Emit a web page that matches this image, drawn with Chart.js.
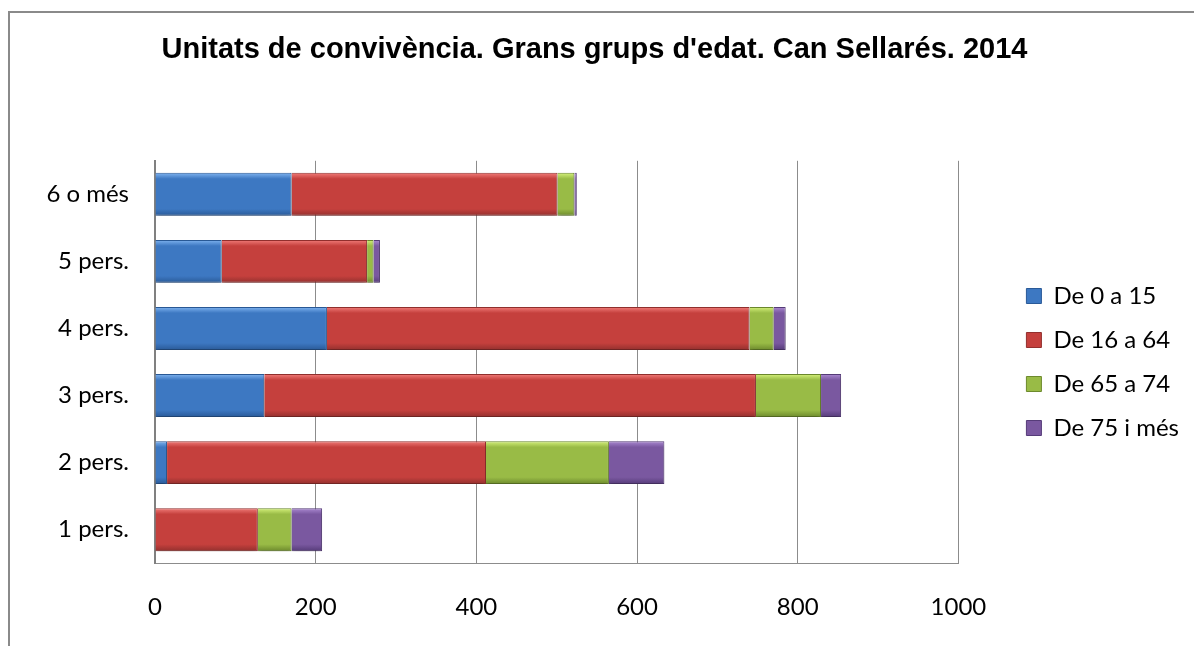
<!DOCTYPE html>
<html lang="ca">
<head>
<meta charset="utf-8">
<title>Unitats de convivència. Can Sellarés. 2014</title>
<script src="https://cdn.jsdelivr.net/npm/chart.js@4/dist/chart.umd.min.js"></script>
<style>
  body { margin: 0; background: #fff; }
  .wrap { position: relative; width: 1194px; height: 646px; overflow: hidden; }
  /* outer frame of the original spreadsheet chart, only top and left are visible */
  .frame { position: absolute; left: 8px; top: 11px; width: 1300px; height: 700px;
           border-left: 2px solid #8a8a8a; border-top: 2px solid #8a8a8a; }
  #chart { position: absolute; left: 0; top: 0; }
</style>
</head>
<body>
<div class="wrap">
  <div class="frame"></div>
  <canvas id="chart" width="1194" height="646"></canvas>
</div>
<script>
// data (persons by household size)
const categories = ['6 o més', '5 pers.', '4 pers.', '3 pers.', '2 pers.', '1 pers.'];
const seriesNames = ['De 0 a 15', 'De 16 a 64', 'De 65 a 74', 'De 75 i més'];
const age0to15  = [170,  83, 214, 136,  15,   0];
const age16to64 = [331, 181, 526, 612, 397, 128];
const age65to74 = [ 21,   8,  30,  81, 153,  42];
const age75plus = [  3,   8,  15,  25,  69,  38];
const xTicks = [0, 200, 400, 600, 800, 1000];

const baseColors  = ['#3d78c2', '#c5403d', '#99bb46', '#7a58a0'];
const lightColors = ['#80b4f0', '#f27d7a', '#d6f27c', '#ab8ad2'];
const darkColors  = ['#2a5a98', '#93302e', '#6d8a2d', '#563c79'];

const labelFont = { family: 'Lato', size: 24 };
const barFraction = 0.64;

// vertical gradient to fake the bevelled look of the Excel bars
function bevel(i) {
  return (ctx) => {
    const chart = ctx.chart;
    const y = chart.scales && chart.scales.y;
    if (!chart.chartArea || !y || ctx.type !== 'data') return baseColors[i];
    const mid = y.getPixelForValue(ctx.dataIndex);
    const half = (y.bottom - y.top) / categories.length * barFraction / 2;
    if (!isFinite(mid) || !isFinite(half)) return baseColors[i];
    const g = chart.ctx.createLinearGradient(0, mid - half, 0, mid + half);
    g.addColorStop(0, lightColors[i]);
    g.addColorStop(0.14, baseColors[i]);
    g.addColorStop(0.84, baseColors[i]);
    g.addColorStop(1, darkColors[i]);
    return g;
  };
}

const values = [age0to15, age16to64, age65to74, age75plus];
const datasets = values.map((data, i) => ({
  label: seriesNames[i],
  data: data,
  backgroundColor: bevel(i),
  borderColor: darkColors[i],
  borderWidth: 1,
  categoryPercentage: 0.8,
  barPercentage: barFraction / 0.8
}));

// soft shadow under the bars
const barShadow = {
  id: 'barShadow',
  beforeDatasetsDraw(chart) {
    const c = chart.ctx;
    c.save();
    c.shadowColor = 'rgba(0, 0, 0, 0.3)';
    c.shadowBlur = 5;
    c.shadowOffsetY = 3;
  },
  afterDatasetsDraw(chart) {
    chart.ctx.restore();
  }
};

new Chart(document.getElementById('chart'), {
  type: 'bar',
  data: { labels: categories, datasets: datasets },
  plugins: [barShadow],
  options: {
    indexAxis: 'y',
    responsive: false,
    animation: false,
    // the x labels sit low in the original, so the bottom padding is slightly negative
    layout: { padding: { left: 0, right: 5, top: 0, bottom: -6 } },
    plugins: {
      title: {
        display: true,
        text: "Unitats de convivència. Grans grups d'edat. Can Sellarés. 2014",
        color: '#000',
        font: { family: 'Liberation Sans', size: 29, weight: 'bold' },
        padding: { top: 33, bottom: 93 }
      },
      legend: {
        position: 'right',
        fullSize: false,
        labels: {
          color: '#000',
          font: labelFont,
          boxWidth: 15,
          boxHeight: 15,
          padding: 20,
          generateLabels: (chart) => chart.data.datasets.map((ds, i) => ({
            text: ds.label,
            fillStyle: baseColors[i],
            strokeStyle: darkColors[i],
            lineWidth: 1,
            datasetIndex: i
          }))
        }
      },
      tooltip: { enabled: false }
    },
    scales: {
      x: {
        stacked: true,
        min: 0,
        max: 1000,
        afterBuildTicks: (scale) => { scale.ticks = xTicks.map(v => ({ value: v })); },
        grid: { color: '#8c8c8c', lineWidth: 1, drawTicks: false },
        border: { display: true, color: '#8c8c8c', width: 1 },
        ticks: { color: '#000', font: labelFont, padding: 30, callback: (v) => String(v) }
      },
      y: {
        stacked: true,
        grid: { display: false, drawTicks: false },
        border: { display: true, color: '#808080', width: 2 },
        ticks: { color: '#000', font: labelFont, padding: 26 },
        afterFit: (scale) => { scale.width = 155; }
      },
      // empty axis that only keeps the legend away from the plot
      gap: {
        type: 'category',
        position: 'right',
        grid: { display: false },
        border: { display: false },
        ticks: { display: false },
        afterFit: (scale) => { scale.width = 48; }
      }
    }
  }
});
</script>
</body>
</html>
